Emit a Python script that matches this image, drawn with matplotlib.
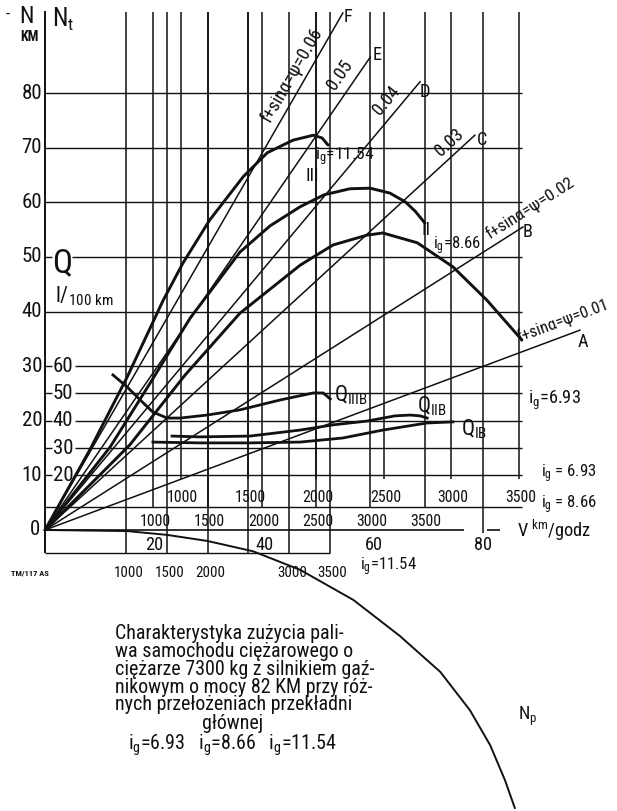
from __future__ import annotations

from typing import List, Tuple

import numpy as np
import matplotlib
matplotlib.use("Agg")
import matplotlib.pyplot as plt
from matplotlib import font_manager

# axes: speed V (km/godz) across, power N (KM) up; fuel Q (l/100 km) = 2 * N
V_TICKS = [20, 40, 60, 80]
N_TICKS = [0, 10, 20, 30, 40, 50, 60, 70, 80]
Q_TICKS = [20, 30, 40, 50, 60]

# engine speed scales under the chart, one per final drive ratio
GEARS = [6.93, 8.66, 11.54]
RPM_TICKS = [1000, 1500, 2000, 2500, 3000, 3500]
RPM_LABELS_LOW = [1000, 1500, 2000, 3000, 3500]   # i_g = 11.54 row has no 2500
WHEEL_K = 0.1715   # km/godz per (rpm / i_g)

# resistance power lines, f + sin(alpha) = psi
PSI = ["0.01", "0.02", "0.03", "0.04", "0.05", "0.06"]
PSI_LETTERS = ["A", "B", "C", "D", "E", "F"]
PSI_END_V = [97.7, 87.3, 78.5, 68.5, 59.4, 54.4]
PSI_END_N = [36.6, 55.5, 72.3, 82.1, 86.6, 94.7]

# traction power N_t for the three ratios
NIII_V = [0, 8.2, 15.0, 21.6, 25.2, 30.1, 36.2, 40.6, 45.3, 49.0, 50.6, 51.7]
NIII_N = [0, 14.7, 28.0, 42.1, 48.9, 56.8, 64.7, 69.1, 71.4, 72.3, 71.8, 70.5]
NII_V = [0, 11.9, 19.2, 26.5, 35.6, 41.1, 46.6, 51.0, 55.7, 59.4, 63.0, 65.8, 67.6, 69.4]
NII_N = [0, 15.2, 26.9, 38.8, 50.9, 55.7, 59.2, 61.4, 62.5, 62.6, 61.7, 60.1, 58.4, 56.2]
NI_V = [0, 15.5, 25.6, 35.6, 46.6, 52.6, 58.8, 61.7, 68.0, 74.5, 80.7, 87.1]
NI_N = [0, 15.6, 28.4, 39.7, 48.5, 52.2, 54.0, 54.4, 52.6, 48.2, 42.1, 34.8]

# fuel consumption on level road
QIIIB_V = [12.4, 15.0, 17.4, 19.7, 22.3, 24.7, 29.6, 35.6, 42.9, 49.0, 50.8, 52.1]
QIIIB_Q = [56.8, 52.4, 47.6, 43.2, 41.0, 41.0, 42.1, 44.0, 47.6, 50.2, 50.2, 48.0]
QIIB_V = [23.2, 28.3, 37.4, 46.6, 52.6, 58.8, 63.9, 66.7, 68.5, 69.8]
QIIB_Q = [34.4, 34.1, 34.4, 36.6, 38.5, 39.9, 41.8, 42.1, 41.8, 41.0]
QIB_V = [19.7, 28.3, 37.4, 46.6, 54.4, 61.7, 69.8, 74.5]
QIB_Q = [32.2, 31.9, 31.9, 32.2, 33.7, 36.6, 39.2, 39.6]

# N_p curve drawn below the speed axis
NP_V = [0, 15.0, 22.3, 29.6, 38.0, 46.6, 56.3, 64.8, 72.2, 77.6, 81.3, 84.0, 85.8]
NP_N = [0, -0.2, -0.9, -2.0, -3.9, -7.3, -12.8, -19.4, -26.0, -33.0, -39.4, -45.8, -50.9]

TITLE_LINES = [
    "Charakterystyka zużycia pali-",
    "wa samochodu ciężarowego o",
    "ciężarze 7300 kg z silnikiem gaź-",
    "nikowym o mocy 82 KM przy róż-",
    "nych przełożeniach przekładni",
]
TITLE_TAIL = ["głównej", "i$_g$=6.93   i$_g$=8.66   i$_g$=11.54"]


def _pick_font() -> Tuple[str, str, float]:
    """Prefer a narrow face (the original lettering is condensed)."""
    names = {f.name: f for f in font_manager.fontManager.ttflist}
    for name in ("Liberation Sans Narrow", "Roboto Condensed", "Open Sans Condensed",
                 "Noto Sans Condensed", "DejaVu Sans Condensed"):
        if name in names:
            return name, "normal", 1.2
    for f in font_manager.fontManager.ttflist:
        if f.stretch in ("condensed", "semi-condensed", "extra-condensed") and "Sans" in f.name:
            return f.name, f.stretch, 1.2
    return "DejaVu Sans", "normal", 1.0


def _rpm_to_v(rpms: List[int], ig: float) -> List[float]:
    return [WHEEL_K * r / ig for r in rpms]


FONT, STRETCH, K = _pick_font()
plt.rcParams["font.family"] = [FONT, "DejaVu Sans"]
plt.rcParams["font.stretch"] = STRETCH
plt.rcParams["mathtext.fontset"] = "custom"
plt.rcParams["mathtext.rm"] = FONT
plt.rcParams["mathtext.it"] = FONT
plt.rcParams["mathtext.bf"] = FONT
plt.rcParams["mathtext.default"] = "regular"


def fs(size: float) -> float:
    return size * K


INK = "#111111"
V_END = 87.1
TOP = 94.8

fig = plt.figure(figsize=(6.17, 8.11), dpi=100)
ax = fig.add_axes([0, 0, 1, 1])
ax.set_xlim(-8.22, 104.47)
ax.set_ylim(-51.47, 97.07)
ax.axis("off")
ax2 = ax.twinx()
lo, hi = ax.get_ylim()
ax2.set_ylim(2 * lo, 2 * hi)
ax2.axis("off")

# ---- grid ----
ax.vlines(0, -4.2, TOP + 0.3, color=INK, lw=1.4)
ax.hlines([80, 70, 60, 40], 0, V_END, color=INK, lw=1.0)
ax.hlines(50, 4.9, V_END, color=INK, lw=1.0)
ax.hlines(50, 0, 1.2, color=INK, lw=1.0)
ax2.hlines(Q_TICKS, 5.5, V_END, color=INK, lw=1.0)
ax2.hlines(Q_TICKS, 0, 1.2, color=INK, lw=1.0)
ax.hlines(4.2, 0, V_END, color=INK, lw=1.0)
ax.hlines(0, 0, 76.5, color=INK, lw=1.2)
ax.hlines(0, 80.7, 83.1, color=INK, lw=1.2)
ax.hlines(-4.2, 0, 52.0, color=INK, lw=1.0)

for ig, bottom in zip(GEARS, [9.3, 4.2, -4.2]):
    ax.vlines(_rpm_to_v(RPM_TICKS, ig), bottom, TOP, color=INK, lw=1.1)
ax.vlines(80, -0.6, TOP, color=INK, lw=1.1)

# ---- resistance lines ----
for vend, nend in zip(PSI_END_V, PSI_END_N):
    ax.plot([0, vend], [0, nend], color=INK, lw=1.1, zorder=3)

ang = [np.degrees(np.arctan2(n, v)) for v, n in zip(PSI_END_V, PSI_END_N)]
lab_kw = dict(ha="center", va="center", color=INK,
              transform_rotates_text=True, rotation_mode="anchor", zorder=5)
ax.text(45.1, 83.3, "f+sinα=ψ=0.06", rotation=ang[5], fontsize=fs(11), **lab_kw)
ax.text(53.9, 83.3, "0.05", rotation=ang[4], fontsize=fs(11), **lab_kw)
ax.text(62.3, 78.6, "0.04", rotation=ang[3], fontsize=fs(11), **lab_kw)
ax.text(73.8, 70.9, "0.03", rotation=ang[2], fontsize=fs(11), **lab_kw)
ax.text(88.6, 59.0, "f+sinα=ψ=0.02", rotation=ang[1], fontsize=fs(10.5), **lab_kw)
ax.text(94.6, 38.4, "f+sinα=ψ=0.01", rotation=ang[0], fontsize=fs(10), **lab_kw)
letter_pos = [(98.3, 34.4), (88.2, 54.6), (79.8, 71.4), (69.4, 80.2), (60.6, 87.0), (55.3, 94.0)]
for (lv, ln), letter in zip(letter_pos, PSI_LETTERS):
    ax.text(lv, ln, letter, ha="center", va="center", fontsize=fs(11), color=INK, zorder=5)

# ---- power curves ----
for vs, ns in [(NIII_V, NIII_N), (NII_V, NII_N), (NI_V, NI_N)]:
    ax.plot(vs, ns, color=INK, lw=2.1, zorder=4, solid_capstyle="round")

# ---- fuel curves ----
for vs, qs in [(QIIIB_V, QIIIB_Q), (QIIB_V, QIIB_Q), (QIB_V, QIB_Q)]:
    ax2.plot(vs, qs, color=INK, lw=2.0, zorder=4)

ax.plot(NP_V, NP_N, color=INK, lw=1.4, zorder=4)

# ---- scale labels ----
t_kw = dict(ha="center", va="center", color=INK, zorder=5)
for n in N_TICKS:
    ax.text(-2.4 if n else -1.8, n, str(n), fontsize=fs(12.5), **t_kw)
for q in Q_TICKS:
    ax2.text(3.3, q, str(q), fontsize=fs(12.5), **t_kw)
for v in V_TICKS:
    ax.text(v, -2.8, str(v), fontsize=fs(11), **t_kw)
for ig, y in zip(GEARS[:2], [6.0, 1.5]):
    for v, r in zip(_rpm_to_v(RPM_TICKS, ig), RPM_TICKS):
        ax.text(v + 0.3, y, str(r), fontsize=fs(9.5), **t_kw)
for v, r in zip(_rpm_to_v(RPM_LABELS_LOW, GEARS[2]), RPM_LABELS_LOW):
    ax.text(v + 0.5, -7.9, str(r), fontsize=fs(9), **t_kw)

ax.text(-3.3, 94.0, "N", fontsize=fs(14), **t_kw)
ax.text(-6.8, 94.5, "-", fontsize=fs(10), **t_kw)
ax.text(-2.9, 90.3, "KM", fontsize=fs(8.5), fontweight="bold", **t_kw)
ax.text(3.3, 93.6, "N$_t$", fontsize=fs(15), **t_kw)
ax.text(3.1, 48.9, "Q", fontsize=fs(20), **t_kw)
ax.text(1.8, 42.9, "l/$_{100\\ km}$", fontsize=fs(13), ha="left", va="center", color=INK)
ax.text(-2.7, -7.9, "TM/117 AS", fontsize=fs(5), fontweight="bold", **t_kw)

ax.text(48.8, 64.8, "III", fontsize=fs(11), **t_kw)
ax.text(54.7, 68.3, "i$_g$=11.54", fontsize=fs(10.5), **t_kw)
ax.text(69.5, 54.9, "II", fontsize=fs(11), **t_kw)
ax.text(70.9, 52.0, "i$_g$=8.66", fontsize=fs(10), ha="left", va="center", color=INK, zorder=5)
ax.text(55.9, 24.7, "Q$_{IIIB}$", fontsize=fs(13), **t_kw)
ax.text(70.6, 22.6, "Q$_{IIB}$", fontsize=fs(13), **t_kw)
ax.text(78.4, 18.4, "Q$_{IB}$", fontsize=fs(13), **t_kw)
ax.text(88.2, 23.8, "i$_g$=6.93", fontsize=fs(11), ha="left", va="center", color=INK)
ax.text(90.5, 10.4, "i$_g$ = 6.93", fontsize=fs(10), ha="left", va="center", color=INK)
ax.text(90.5, 4.6, "i$_g$ = 8.66", fontsize=fs(10), ha="left", va="center", color=INK)
ax.text(86.2, 0.0, "V $^{km}$/godz", fontsize=fs(11), ha="left", va="center", color=INK)
ax.text(62.8, -6.7, "i$_g$=11.54", fontsize=fs(10), **t_kw)
ax.text(88.2, -34.1, "N$_p$", fontsize=fs(11), **t_kw)

# ---- caption ----
ax.text(12.8, -25.5, "\n".join(TITLE_LINES), fontsize=fs(12), linespacing=0.92,
        ha="left", va="center", color=INK)
ax.text(34.3, -37.7, "\n".join(TITLE_TAIL), fontsize=fs(12), linespacing=0.95,
        ha="center", va="center", multialignment="center", color=INK)

fig.savefig("out.png", dpi=100)
